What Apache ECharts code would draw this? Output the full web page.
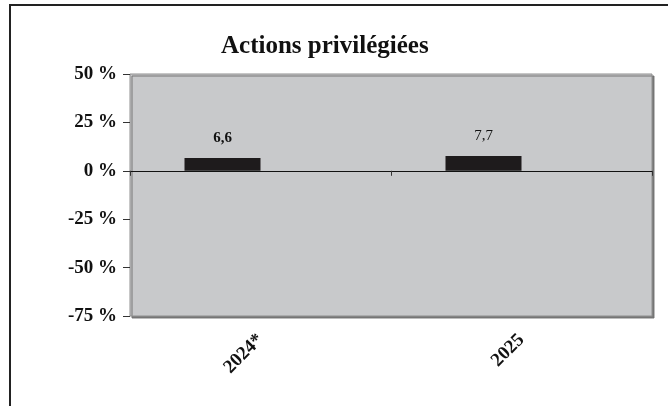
<!DOCTYPE html>
<html>
<head>
<meta charset="utf-8">
<script src="https://cdn.jsdelivr.net/npm/echarts@6/dist/echarts.min.js"></script>
<style>
html,body{margin:0;padding:0;background:#fff;}
#c{width:668px;height:406px;}
</style>
</head>
<body>
<div id="c"></div>
<script>
const titleText = "Actions privilégiées";
const categories = ["2024*", "2025"];
const values = [6.6, 7.7];
const emptySeries = [null, null];
const labelWeights = ["bold", "normal"];
const yMin = -75, yMax = 50, yStep = 25;

const serif = '"Liberation Serif", "Times New Roman", serif';
const chart = echarts.init(document.getElementById('c'), null, {renderer: 'canvas'});

chart.setOption({
  backgroundColor: '#ffffff',
  animation: false,
  title: {
    text: titleText,
    left: 216,
    top: 29,
    textStyle: {fontFamily: serif, fontWeight: 'bold', fontSize: 25, color: '#111'}
  },
  graphic: [{
    type: 'rect',
    shape: {x: 10, y: 5, width: 700, height: 460},
    style: {fill: 'none', stroke: '#222', lineWidth: 2},
    silent: true
  }],
  grid: {
    left: 130, right: 16, top: 74, bottom: 90,
    show: true,
    backgroundColor: '#c8c9cb',
    borderColor: '#8e8e8e',
    borderWidth: 1,
    shadowColor: 'rgba(110,110,110,0.9)',
    shadowBlur: 0,
    shadowOffsetX: 2,
    shadowOffsetY: 2
  },
  xAxis: [{
    type: 'category',
    data: categories,
    axisLine: {onZero: true, lineStyle: {color: '#111', width: 1}},
    axisTick: {show: true, length: 5, inside: false, lineStyle: {color: '#333'}},
    axisLabel: {show: false},
    splitLine: {show: false}
  }, {
    type: 'category',
    data: categories,
    position: 'bottom',
    axisLine: {show: false, onZero: false},
    axisTick: {show: false},
    axisLabel: {
      show: true, rotate: 45, margin: 21,
      fontFamily: serif, fontWeight: 'bold', fontSize: 19, color: '#111'
    }
  }],
  yAxis: {
    type: 'value',
    min: yMin, max: yMax, interval: yStep,
    axisLine: {show: false},
    axisTick: {show: true, length: 7, lineStyle: {color: '#333'}},
    splitLine: {show: false},
    axisLabel: {
      margin: 13,
      formatter: v => v + ' %',
      fontFamily: serif, fontWeight: 'bold', fontSize: 19, color: '#111'
    }
  },
  series: [{
    type: 'bar',
    xAxisIndex: 0,
    data: values.map((v, i) => ({
      value: v,
      label: {fontWeight: labelWeights[i]}
    })),
    barWidth: 76,
    barGap: '0%',
    itemStyle: {color: '#1e1b1c'},
    label: {
      show: true, position: 'top', distance: 12,
      formatter: p => String(p.value).replace('.', ','),
      fontFamily: serif, fontSize: 15, color: '#111'
    }
  }, {
    type: 'bar',
    xAxisIndex: 0,
    data: emptySeries,
    barWidth: 76,
    barGap: '0%'
  }]
});
</script>
</body>
</html>
